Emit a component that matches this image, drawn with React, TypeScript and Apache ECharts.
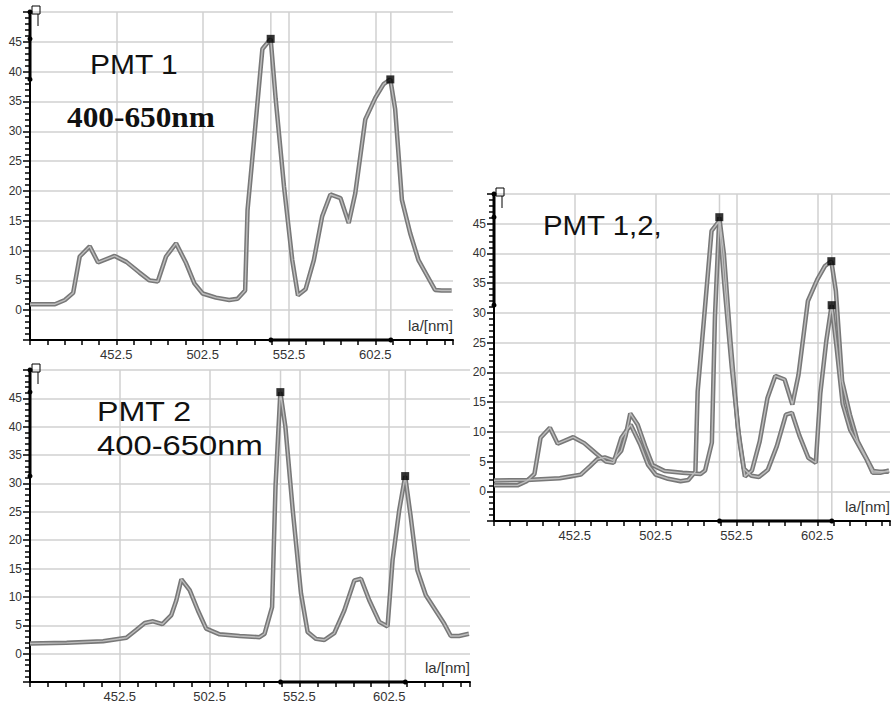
import React, { useEffect, useRef } from "react";
import * as echarts from "echarts";

// ---- data ----
const xTickLabels = ["452.5", "502.5", "552.5", "602.5"];
const yTickLabels = ["0", "5", "10", "15", "20", "25", "30", "35", "40", "45"];

const wlPMT1 = [
  402.5, 417, 422.7, 427.5, 431.3, 437.1, 441.9, 451.5, 458.3, 465.9, 471.7, 476.5,
  481.3, 487.1, 492.9, 497.7, 502.5, 510.2, 517.9, 522.7, 527.1, 528.5, 532.3, 537.1,
  541.9, 544.8, 549.6, 554.4, 557.7, 562.1, 566.9, 571.7, 576.5, 582.3, 587.1, 590.9,
  596.7, 602.5, 607.3, 611.2, 614.0, 617.9, 622.7, 627.5, 632.3, 637.1, 640.9, 646.7,
];
const valPMT1 = [
  1.0, 1.0, 1.7, 2.9, 9.0, 10.7, 8.0, 9.1, 8.1, 6.3, 5.0, 4.8,
  9.0, 11.2, 7.9, 4.5, 2.8, 2.1, 1.7, 1.9, 3.3, 16.8, 28.6, 43.8,
  45.5, 35.4, 20.8, 8.4, 2.5, 3.5, 8.4, 15.7, 19.4, 18.8, 14.6, 19.6,
  32.0, 35.6, 37.9, 38.7, 33.7, 18.5, 12.9, 8.4, 5.9, 3.4, 3.3, 3.3,
];

const wlPMT2 = [
  402.5, 422.9, 443.2, 449.7, 456.2, 461.8, 466.4, 471.0, 476.2, 481.2, 484.0, 486.8,
  491.4, 496.0, 500.6, 508.1, 519.2, 530.3, 533.1, 537.3, 539.2, 541.9, 544.7, 548.8,
  553.4, 557.1, 561.8, 566.4, 571.9, 577.5, 583.1, 586.8, 591.4, 597.0, 601.6, 604.4,
  608.1, 611.4, 614.5, 618.2, 622.9, 628.4, 633.1, 636.8, 641.4, 646.9,
];
const valPMT2 = [
  1.8, 1.9, 2.2, 2.5, 2.8, 4.2, 5.4, 5.7, 5.2, 6.8, 9.4, 13.1,
  11.2, 7.6, 4.4, 3.4, 3.1, 2.9, 3.5, 8.2, 29.4, 46.1, 40.0, 25.3,
  10.6, 3.8, 2.6, 2.4, 3.6, 7.6, 12.9, 13.2, 9.4, 5.6, 4.8, 16.5,
  25.3, 31.3, 24.1, 14.7, 10.3, 7.6, 5.3, 3.1, 3.1, 3.5,
];

const peaksPMT1 = [[541.9, 45.5], [611.2, 38.7]];
const peaksPMT2 = [[541.9, 46.1], [611.4, 31.3]];
const peaksCombined = [[541.9, 46.1], [611.2, 38.7], [611.4, 31.3]];
const cursorX = [542, 611.5];
const cursorYTop = 50;

const X_MIN = 402.5;
const X_MAX = 647.5;
const Y_MIN = -5;
const Y_MAX = 50;

const FONT = "'Liberation Sans', Arial, Helvetica, sans-serif";
const SERIF = "'Liberation Serif', 'Times New Roman', serif";
const GRID_COLOR = "#d0d0d0";

const zip = (xs: number[], ys: number[]) => xs.map((x, i) => [x, ys[i]]);

export default function App() {
  const ref = useRef<HTMLDivElement>(null);

  useEffect(() => {
    if (!ref.current) return;
    const chart = echarts.init(ref.current, null, { renderer: "svg" });

    const grids = [
      { left: 30, top: 12, width: 423, height: 328 },
      { left: 30, top: 370, width: 440, height: 312 },
      { left: 494, top: 194, width: 396, height: 327 },
    ];

    const xAxis = grids.map((_, i) => ({
      type: "value",
      gridIndex: i,
      min: X_MIN,
      max: X_MAX,
      interval: 50,
      axisLine: { show: true, onZero: false, lineStyle: { color: "#000", width: 2 } },
      axisTick: { show: true, length: 5, lineStyle: { color: "#000", width: 1.5 } },
      minorTick: { show: true, splitNumber: 5, length: 5, lineStyle: { color: "#000", width: 1.5 } },
      axisLabel: {
        showMinLabel: false,
        showMaxLabel: false,
        fontSize: 13,
        fontFamily: FONT,
        color: "#333",
        margin: 8,
        formatter: (v: number) => {
          const s = v.toFixed(1);
          return xTickLabels.includes(s) ? s : "";
        },
      },
      splitLine: {
        show: true,
        showMinLine: false,
        showMaxLine: false,
        lineStyle: { color: GRID_COLOR, width: 1.5 },
      },
    }));

    const yAxis = grids.map((_, i) => ({
      type: "value",
      gridIndex: i,
      min: Y_MIN,
      max: Y_MAX,
      interval: 5,
      axisLine: { show: true, onZero: false, lineStyle: { color: "#000", width: 2 } },
      axisTick: { show: true, length: 7, lineStyle: { color: "#000", width: 1.5 } },
      minorTick: { show: true, splitNumber: 5, length: 5, lineStyle: { color: "#000", width: 1.5 } },
      axisLabel: {
        showMinLabel: false,
        showMaxLabel: false,
        fontSize: 12,
        fontFamily: FONT,
        color: "#333",
        margin: 8,
        formatter: (v: number) => (yTickLabels.includes(String(v)) ? String(v) : ""),
      },
      splitLine: { show: true, showMinLine: false, lineStyle: { color: GRID_COLOR, width: 1.5 } },
    }));

    const curve = (gi: number, xs: number[], ys: number[]) => [
      {
        type: "line",
        xAxisIndex: gi,
        yAxisIndex: gi,
        data: zip(xs, ys),
        symbol: "none",
        lineStyle: { color: "#787878", width: 4.5 },
        z: 3,
        silent: true,
      },
      {
        type: "line",
        xAxisIndex: gi,
        yAxisIndex: gi,
        data: zip(xs, ys),
        symbol: "none",
        lineStyle: { color: "#bdbdbd", width: 1.4 },
        z: 4,
        silent: true,
      },
    ];

    const cursors = (gi: number) =>
      cursorX.map((cx) => ({
        type: "line",
        xAxisIndex: gi,
        yAxisIndex: gi,
        data: [[cx, Y_MIN], [cx, Y_MAX]],
        symbol: "none",
        lineStyle: { color: GRID_COLOR, width: 1.5 },
        z: 1,
        silent: true,
      }));

    const axisMarks = (gi: number, markerPeaks: number[][], cursorPeaks: number[][]) => {
      const ySorted = cursorPeaks.map((p) => p[1]).sort((a, b) => b - a);
      return [
        {
          type: "line",
          xAxisIndex: gi,
          yAxisIndex: gi,
          data: [[cursorX[0], Y_MIN], [cursorX[1], Y_MIN]],
          symbol: "circle",
          symbolSize: 5,
          itemStyle: { color: "#000" },
          lineStyle: { color: "#000", width: 3 },
          clip: false,
          z: 6,
          silent: true,
        },
        {
          type: "line",
          xAxisIndex: gi,
          yAxisIndex: gi,
          data: [[X_MIN, cursorYTop], ...ySorted.map((y) => [X_MIN, y])],
          symbol: "circle",
          symbolSize: 5,
          itemStyle: { color: "#000" },
          lineStyle: { color: "#000", width: 3 },
          clip: false,
          z: 6,
          silent: true,
        },
        {
          type: "scatter",
          xAxisIndex: gi,
          yAxisIndex: gi,
          data: markerPeaks,
          symbol: "rect",
          symbolSize: 8,
          itemStyle: { color: "#000" },
          clip: false,
          z: 7,
          silent: true,
        },
      ];
    };

    const series = [
      ...cursors(0),
      ...curve(0, wlPMT1, valPMT1),
      ...axisMarks(0, peaksPMT1, peaksPMT1),
      ...cursors(1),
      ...curve(1, wlPMT2, valPMT2),
      ...axisMarks(1, peaksPMT2, peaksPMT2),
      ...cursors(2),
      ...curve(2, wlPMT1, valPMT1),
      ...curve(2, wlPMT2, valPMT2),
      ...axisMarks(2, peaksCombined, peaksPMT2),
    ];

    const flag = (g: { left: number; top: number }) => [
      {
        type: "rect",
        shape: { x: g.left + 2, y: g.top - 6, width: 8, height: 8 },
        style: { fill: "none", stroke: "#000", lineWidth: 1 },
        z: 10,
      },
      {
        type: "line",
        shape: { x1: g.left + 8, y1: g.top + 2, x2: g.left + 8, y2: g.top + 14 },
        style: { stroke: "#000", lineWidth: 1 },
        z: 10,
      },
    ];

    const unitLabel = (g: { left: number; top: number; width: number; height: number }) => ({
      type: "text",
      x: g.left + g.width,
      y: g.top + g.height - 15,
      style: {
        text: "la/[nm]",
        font: `15px ${FONT}`,
        fill: "#333",
        align: "right",
        verticalAlign: "middle",
      },
      z: 10,
    });

    const title = (text: string, x: number, y: number, font: string, scaleX: number) => ({
      type: "text",
      x,
      y,
      scaleX,
      style: { text, font, fill: "#111", align: "left", verticalAlign: "middle" },
      z: 10,
    });

    chart.setOption({
      animation: false,
      backgroundColor: "#fff",
      grid: grids.map((g) => ({ ...g, containLabel: false, outerBoundsMode: "none" })),
      xAxis,
      yAxis,
      series,
      graphic: [
        ...grids.flatMap((g) => flag(g)),
        ...grids.map((g) => unitLabel(g)),
        title("PMT 1", 90, 64, `28px ${FONT}`, 1.07),
        title("400-650nm", 67, 117, `bold 29px ${SERIF}`, 1.08),
        title("PMT 2", 97, 411, `28px ${FONT}`, 1.15),
        title("400-650nm", 97, 445, `28px ${FONT}`, 1.17),
        title("PMT 1,2,", 543, 225, `28px ${FONT}`, 1.05),
      ],
    });

    return () => chart.dispose();
  }, []);

  return (
    <div
      ref={ref}
      style={{ position: "fixed", left: 0, top: 0, width: 891, height: 705, background: "#fff" }}
    />
  );
}
